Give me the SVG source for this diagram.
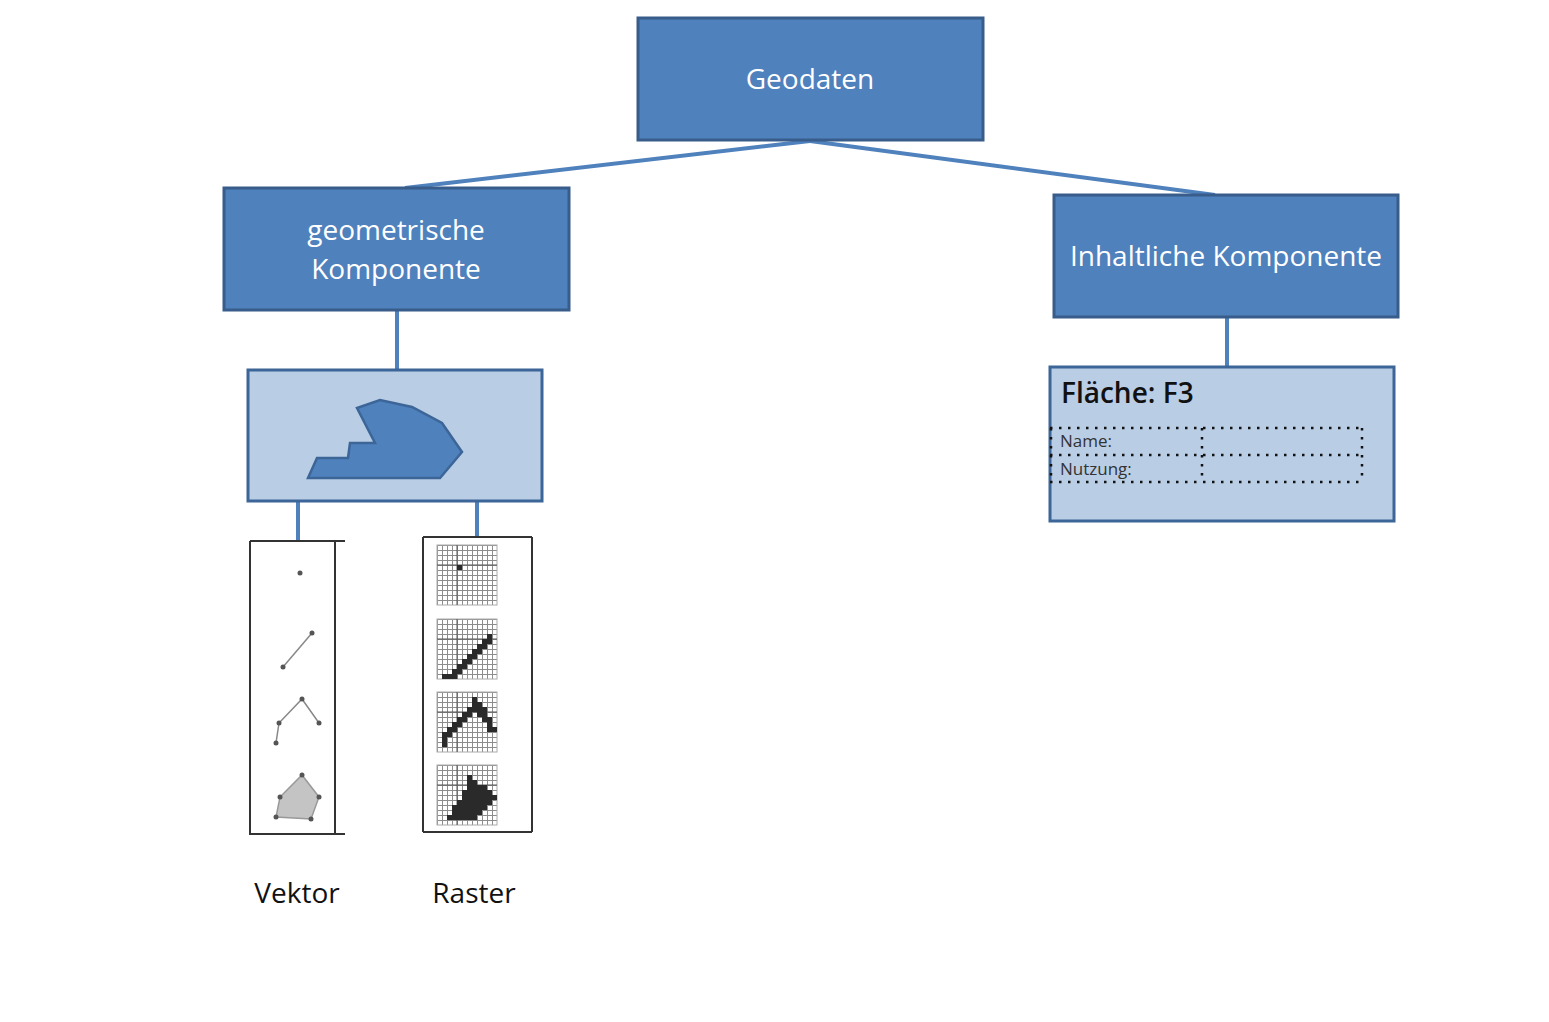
<svg xmlns="http://www.w3.org/2000/svg" xmlns:xlink="http://www.w3.org/1999/xlink" width="1549" height="1022" viewBox="0 0 1549 1022">
<style>
.dark{fill:#4F81BD;stroke:#385D8A;stroke-width:3}
.light{fill:#B9CDE5;stroke:#3C6598;stroke-width:3}
.wt{font-family:"Open Sans","Noto Sans",sans-serif;font-size:28px;fill:#FFFFFF;text-anchor:middle}
.bt{font-family:"Open Sans","Noto Sans",sans-serif;font-size:28px;fill:#111111}
.st{font-family:"Open Sans","Noto Sans",sans-serif;font-size:17px;fill:#333333}
.conn{stroke:#4F81BD;stroke-width:4;fill:none}
.frame{stroke:#333333;stroke-width:2;fill:none}
.vl{stroke:#888888;stroke-width:1.5;fill:none}
.vd{fill:#555555}
.dot{stroke:#111111;stroke-width:2.5;stroke-dasharray:2.5 6.5;fill:none}
.cell{fill:#2A2A2A}
</style>
<defs>
<pattern id="gp" width="5" height="5" patternUnits="userSpaceOnUse">
<rect width="5" height="5" fill="#FFFFFF"/>
<path d="M0 0.5H5M0.5 0V5" stroke="#8C8C8C" stroke-width="1"/>
</pattern>
<g id="gridbase">
<rect x="0" y="0" width="60" height="60" fill="url(#gp)" stroke="#AAAAAA" stroke-width="1"/>
<path d="M20 0V60M0 20H60" stroke="#555555" stroke-width="1"/>
</g>
</defs>
<rect width="1549" height="1022" fill="#FFFFFF"/>
<g id="connectors">
<line class="conn" x1="810" y1="141" x2="405" y2="188"/>
<line class="conn" x1="810" y1="141" x2="1215" y2="195"/>
<line class="conn" x1="397" y1="311" x2="397" y2="370"/>
<line class="conn" x1="1227" y1="318" x2="1227" y2="367"/>
<line class="conn" x1="298" y1="501" x2="298" y2="540"/>
<line class="conn" x1="477" y1="501" x2="477" y2="537"/>
</g>
<g id="geodaten">
<rect class="dark" x="638" y="18" width="345" height="122"/>
<text class="wt" x="810" y="89">Geodaten</text>
</g>
<g id="geometrische">
<rect class="dark" x="224" y="188" width="345" height="122"/>
<text class="wt" x="396" y="240">geometrische</text>
<text class="wt" x="396" y="279">Komponente</text>
</g>
<g id="inhaltliche">
<rect class="dark" x="1054" y="195" width="344" height="122"/>
<text class="wt" x="1226" y="266">Inhaltliche Komponente</text>
</g>
<g id="geometrie-symbol">
<rect class="light" x="248" y="370" width="294" height="131"/>
<polygon points="308,478 317,458 348,458 350,443 375,443 357,408 380,400 412,407 442,423 462,452 440,478" fill="#4F81BD" stroke="#3C6598" stroke-width="2.5"/>
</g>
<g id="flaeche">
<rect class="light" x="1050" y="367" width="344" height="154"/>
<text class="bt" x="1061" y="403" font-weight="600">Fläche: F3</text>
<path class="dot" d="M1050 428H1362M1050 455H1362M1050 482H1362M1051 428V482M1202 428V482M1362 428V482"/>
<text class="st" x="1060" y="447">Name:</text>
<text class="st" x="1060" y="475">Nutzung:</text>
</g>
<g id="vektor">
<path class="frame" d="M250 541V835M335 541V835M250 541H345M250 834H345"/>
<circle class="vd" cx="300" cy="573" r="2.5"/>
<line class="vl" x1="283" y1="667" x2="312" y2="633"/>
<circle class="vd" cx="283" cy="667" r="2.5"/>
<circle class="vd" cx="312" cy="633" r="2.5"/>
<polyline class="vl" points="276,743 279,723 302,699 319,723"/>
<circle class="vd" cx="276" cy="743" r="2.5"/>
<circle class="vd" cx="279" cy="723" r="2.5"/>
<circle class="vd" cx="302" cy="699" r="2.5"/>
<circle class="vd" cx="319" cy="723" r="2.5"/>
<polygon points="302,775 319,797 311,819 276,817 280,797" fill="#C4C4C4" stroke="#999999" stroke-width="1.5"/>
<circle class="vd" cx="302" cy="775" r="2.5"/>
<circle class="vd" cx="319" cy="797" r="2.5"/>
<circle class="vd" cx="311" cy="819" r="2.5"/>
<circle class="vd" cx="276" cy="817" r="2.5"/>
<circle class="vd" cx="280" cy="797" r="2.5"/>
<text class="bt" x="297" y="903" text-anchor="middle">Vektor</text>
</g>
<g id="raster">
<path class="frame" d="M423 537V832M532 537V832M423 537H532M423 832H532"/>
<use xlink:href="#gridbase" x="437" y="545"/>
<use xlink:href="#gridbase" x="437" y="619"/>
<use xlink:href="#gridbase" x="437" y="692"/>
<use xlink:href="#gridbase" x="437" y="765"/>
<g transform="translate(437,545)">
<rect class="cell" x="20" y="20" width="5" height="5"/>
</g>
<g transform="translate(437,619)">
<path class="cell" d="M5 55H15V50H20V45H25V40H30V35H35V30H40V25H45V20H50V15H55V25H50V30H45V35H40V40H35V45H30V50H25V55H20V60H5Z"/>
</g>
<g transform="translate(437,692)">
<path class="cell" d="M5 50V40H10V35H15V30H20V25H25V20H30V15H35V5H40V10H45V15H50V25H55V35H60V40H50V30H45V25H40V20H35V25H30V30H25V35H20V40H15V45H10V55H5Z"/>
</g>
<g transform="translate(437,765)">
<path class="cell" d="M30 10H35V15H40V20H50V25H55V30H60V35H55V40H50V45H45V50H40V55H10V50H15V40H20V35H25V25H30Z"/>
</g>
<text class="bt" x="474" y="903" text-anchor="middle">Raster</text>
</g>
</svg>
